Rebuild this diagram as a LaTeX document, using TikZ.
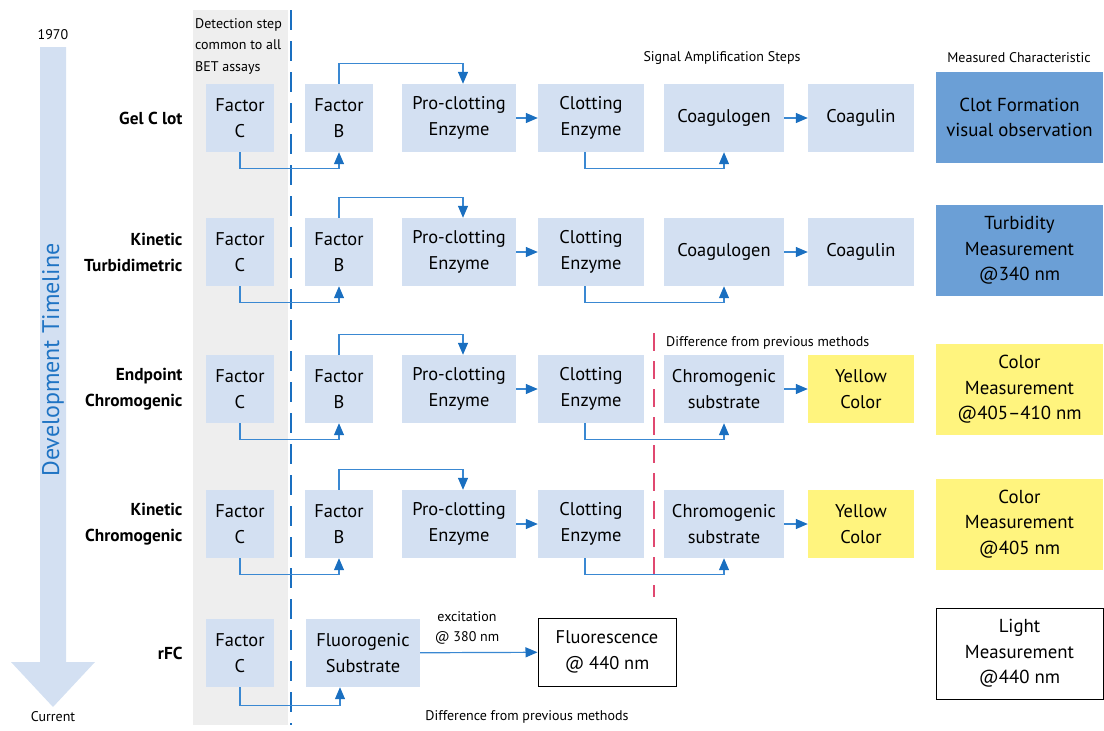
\documentclass[tikz,border=0pt]{standalone}
\usepackage{fontspec}
\setmainfont{PT Sans}
\usetikzlibrary{arrows.meta}
\definecolor{boxblue}{HTML}{D3E0F2}
\definecolor{resblue}{HTML}{6B9FD6}
\definecolor{resyellow}{HTML}{FFF47E}
\definecolor{bandgray}{HTML}{EEEEEE}
\definecolor{lineblue}{HTML}{3A88D2}
\definecolor{tipblue}{HTML}{1A6FC0}
\definecolor{textblue}{HTML}{1F74C4}
\definecolor{diffred}{HTML}{E04870}
\tikzset{
  box/.style={fill=boxblue, inner sep=0pt, minimum height=68pt, align=center, font=\fontsize{18.4}{26}\selectfont},
  resbox/.style={inner sep=0pt, minimum width=167pt, minimum height=91pt, align=center, font=\fontsize{18.8}{25.5}\selectfont},
  rowlabel/.style={anchor=east, align=right, font=\bfseries\fontsize{17.3}{26}\selectfont},
  small/.style={font=\fontsize{14}{21.5}\selectfont, inner sep=0pt},
  conn/.style={draw=lineblue, line width=1.2pt, -{Triangle[length=12pt,width=10pt,color=tipblue]}},
  bluedash/.style={draw=tipblue, line width=1.2pt, dash pattern=on 20pt off 11pt},
  reddash/.style={draw=diffred, line width=1.2pt, dash pattern=on 18pt off 10pt},
}
\begin{document}
\begin{tikzpicture}[x=1pt,y=-1pt]
\useasboundingbox (0,0) rectangle (1104,731);
% detection band
\fill[bandgray] (193,10) rectangle (288,725);
\draw[bluedash] (291,10) -- (291,725);
\draw[reddash] (654,333) -- (654,597);
% timeline arrow
\fill[boxblue] (40,47) -- (66,47) -- (66,662) -- (95,662) -- (53,707) -- (11,662) -- (40,662) -- cycle;
\node[small] (y1970) at (53,35) {1970};
\node[small] (ycur) at (53,717) {Current};
\node[rotate=90, text=textblue, font=\fontsize{24}{28}\selectfont] (devt) at (53,360) {Development Timeline};
% headers
\node[small, align=left, anchor=north west] (detect) at (195,18) {Detection step\\common to all\\BET assays};
\node[small] (sas) at (722,58) {Signal Amplification Steps};
\node[small] (mc) at (1019,58) {Measured Characteristic};
% row labels
\node[rowlabel] (l1) at (186,118) {Gel C lot};
\node[rowlabel] (l2) at (186,252) {Kinetic\\Turbidimetric};
\node[rowlabel] (l3) at (186,389) {Endpoint\\Chromogenic};
\node[rowlabel] (l4) at (186,524) {Kinetic\\Chromogenic};
\node[rowlabel] (l5) at (186,653) {rFC};
% common rows
\foreach \r/\y in {1/118,2/252,3/389,4/524} {
  \node[box, minimum width=68pt] (fc\r) at (240,\y) {Factor\\C};
  \node[box, minimum width=68pt] (fb\r) at (339,\y) {Factor\\B};
  \node[box, minimum width=114pt] (pc\r) at (459,\y) {Pro-clotting\\Enzyme};
  \node[box, minimum width=106pt] (ce\r) at (591,\y) {Clotting\\Enzyme};
  \draw[conn] (fc\r.south) -- ++(0,16) -| (fb\r.south);
  \draw[conn] (fb\r.north) -- ++(0,-20) -| ([xshift=4pt]pc\r.north);
  \draw[conn] (pc\r) -- (ce\r);
}
\foreach \r/\y in {1/118,2/252} {
  \node[box, minimum width=120pt] (cg\r) at (724,\y) {Coagulogen};
  \node[box, minimum width=106pt] (cn\r) at (861,\y) {Coagulin};
  \draw[conn] ([xshift=-6pt]ce\r.south) -- ++(0,16) -| (cg\r.south);
  \draw[conn] (cg\r) -- (cn\r);
}
\foreach \r/\y in {3/389,4/524} {
  \node[box, minimum width=120pt] (cs\r) at (724,\y) {Chromogenic\\substrate};
  \node[box, minimum width=106pt, fill=resyellow] (yc\r) at (861,\y) {Yellow\\Color};
  \draw[conn] ([xshift=-6pt]ce\r.south) -- ++(0,16) -| (cs\r.south);
  \draw[conn] (cs\r) -- (yc\r);
}
\node[small, anchor=west] (diff1) at (666,343) {Difference from previous methods};
% rFC row
\node[box, minimum width=68pt] (fc5) at (240,653) {Factor\\C};
\node[box, minimum width=114pt] (fs5) at (363,653) {Fluorogenic\\Substrate};
\node[draw=black, line width=1pt, inner sep=0pt, minimum width=138pt, minimum height=68pt, align=center, font=\fontsize{18.4}{26}\selectfont] (fl5) at (607,652) {Fluorescence\\@ 440 nm};
\draw[conn] (fc5.south) -- ++(0,18) -| ([xshift=-23pt]fs5.south);
\draw[conn] (fs5) -- (fl5);
\node[small] (exc) at (467,617) {excitation};
\node[small] (exc2) at (467,638) {@ 380 nm};
\node[small] (diff2) at (527,717) {Difference from previous methods};
% results
\node[resbox, fill=resblue] (r1) at (1019.5,117.5) {Clot Formation\\visual observation};
\node[resbox, fill=resblue] (r2) at (1019.5,250.5) {Turbidity\\Measurement\\@340 nm};
\node[resbox, fill=resyellow] (r3) at (1019.5,389.5) {Color\\Measurement\\@405--410 nm};
\node[resbox, fill=resyellow] (r4) at (1019.5,524) {Color\\Measurement\\@405 nm};
\node[resbox, draw=black, line width=1pt] (r5) at (1019.5,653.5) {Light\\Measurement\\@440 nm};
\end{tikzpicture}
\end{document}
